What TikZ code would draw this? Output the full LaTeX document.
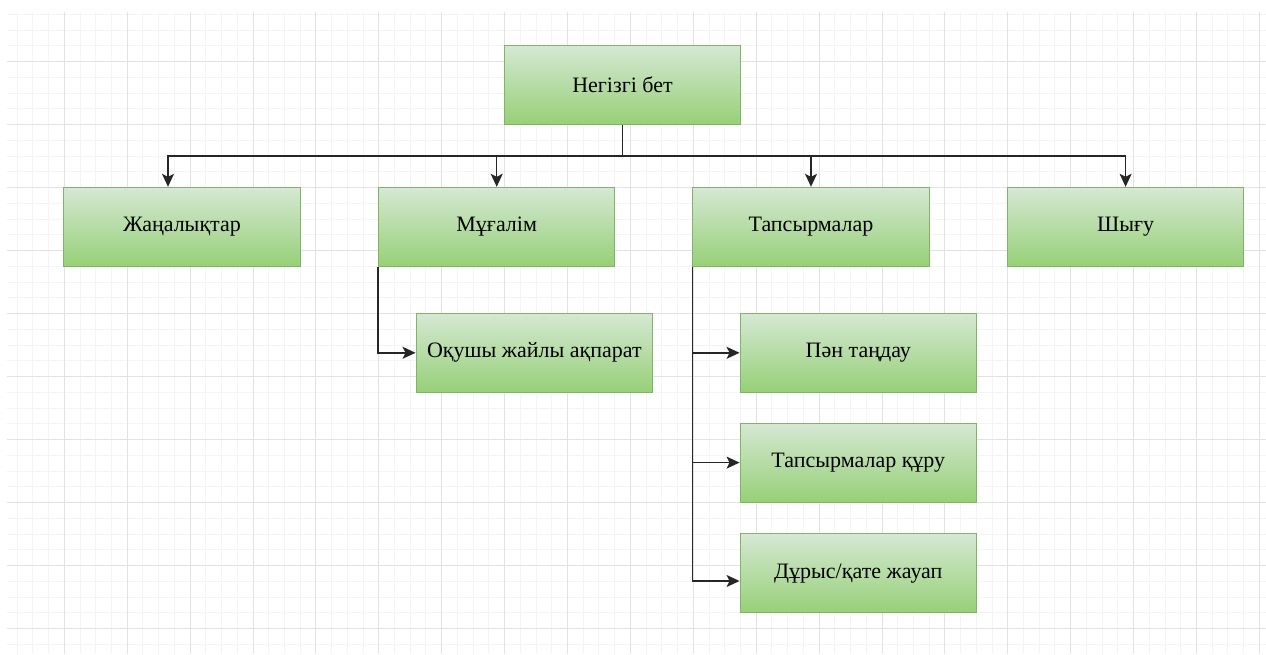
\documentclass[tikz,border=0pt]{standalone}
\usepackage{fontspec}
\setmainfont{Liberation Serif}
\usetikzlibrary{arrows.meta,calc}
\definecolor{gridminor}{HTML}{F4F4F4}
\definecolor{gridmajor}{HTML}{E2E2E2}
\definecolor{boxtop}{HTML}{D5E8D4}
\definecolor{boxbot}{HTML}{97D077}
\definecolor{boxline}{HTML}{82B366}
\tikzset{
  box/.style={draw=boxline, line width=1pt, top color=boxtop, bottom color=boxbot,
    minimum width=236.5pt, minimum height=79pt, inner sep=0pt,
    font=\fontsize{22}{26}\selectfont, text=black},
  arr/.style={draw=black!85, line width=1.4pt, -{Stealth[length=13pt,width=12pt,inset=3pt]}},
  minorline/.style={draw=gridminor, line width=1pt},
  majorline/.style={draw=gridmajor, line width=1pt}
}
\begin{document}
\begin{tikzpicture}[x=1pt,y=-1pt]
\useasboundingbox (0,0) rectangle (1266,654);
\fill[white] (0,0) rectangle (1266,654);
\begin{scope}
\clip (7,12) rectangle (1266,654);
\foreach \i in {-4,...,77} {
  \pgfmathsetmacro\xx{64.3+15.725*\i}
  \draw[minorline] (\xx,12) -- (\xx,654);
}
\foreach \j in {-4,...,38} {
  \pgfmathsetmacro\yy{61.7+15.75*\j}
  \draw[minorline] (7,\yy) -- (1266,\yy);
}
\foreach \i in {-1,...,19} {
  \pgfmathsetmacro\xx{64.3+62.9*\i}
  \draw[majorline] (\xx,12) -- (\xx,654);
}
\foreach \j in {-1,...,9} {
  \pgfmathsetmacro\yy{61.7+63*\j}
  \draw[majorline] (7,\yy) -- (1266,\yy);
}
\end{scope}

\node[box] (root) at (622.5,84.8) {Негізгі бет};
\node[box] (news) at (182,226.8) {Жаңалықтар};
\node[box] (teacher) at (496.7,226.8) {Мұғалім};
\node[box] (tasks) at (811,226.8) {Тапсырмалар};
\node[box] (exit) at (1125.6,226.8) {Шығу};
\node[box] (student) at (534.3,352.8) {Оқушы жайлы ақпарат};
\node[box] (subj) at (858.3,352.8) {Пән таңдау};
\node[box] (create) at (858.3,462.6) {Тапсырмалар құру};
\node[box] (correct) at (858.3,573.3) {Дұрыс/қате жауап};

\draw[arr] (root.south) -- ++(0,31.2) -| ([xshift=-14pt]news.north);
\draw[arr] (root.south) -- ++(0,31.2) -| (teacher.north);
\draw[arr] (root.south) -- ++(0,31.2) -| (tasks.north);
\draw[arr] (root.south) -- ++(0,31.2) -| (exit.north);

\draw[arr] (teacher.south west) |- (student.west);
\draw[arr] (tasks.south west) |- (subj.west);
\draw[arr] (tasks.south west) |- (create.west);
\draw[arr] (tasks.south west) |- ([yshift=-7.7pt]correct.west);
\end{tikzpicture}
\end{document}
